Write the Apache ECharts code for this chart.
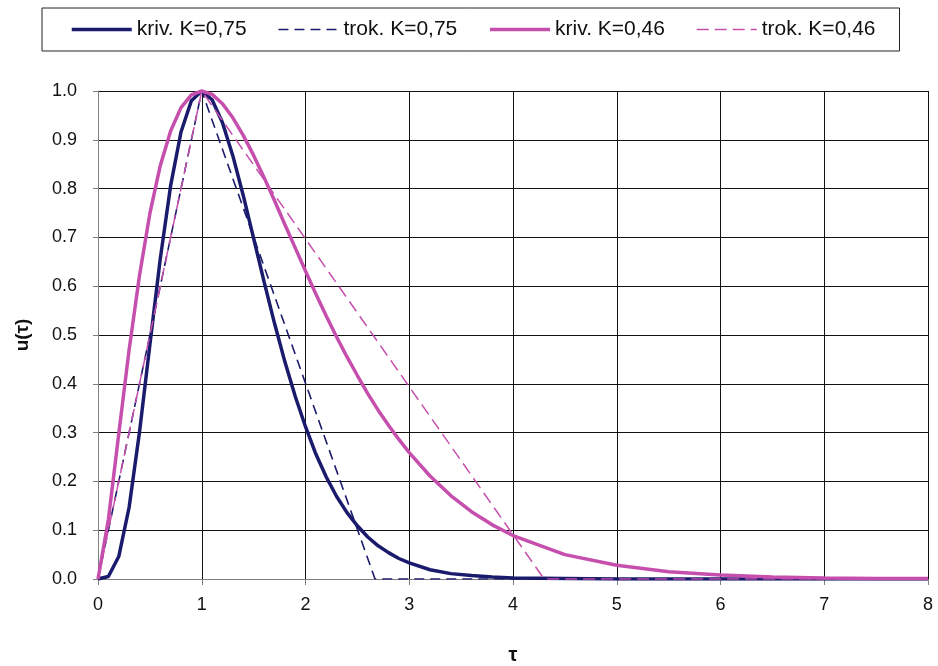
<!DOCTYPE html>
<html>
<head>
<meta charset="utf-8">
<title>u(τ)</title>
<script src="https://cdn.jsdelivr.net/npm/echarts@6/dist/echarts.min.js"></script>
<style>
  html, body { margin: 0; padding: 0; background: #ffffff; }
  #chart { width: 938px; height: 666px; }
</style>
</head>
<body>
<div id="chart"></div>
<script>
// Sample times τ for the smooth curves
const tauCurve = [
  0, 0.1, 0.2, 0.3, 0.4, 0.5, 0.6, 0.7, 0.8, 0.9,
  1.0, 1.1, 1.2, 1.3, 1.4, 1.5, 1.6, 1.7, 1.8, 1.9,
  2.0, 2.1, 2.2, 2.3, 2.4, 2.5, 2.6, 2.7, 2.8, 2.9,
  3.0, 3.2, 3.4, 3.6, 3.8, 4.0, 4.5, 5.0, 5.5, 6.0,
  6.5, 7.0, 7.5, 8.0
];

// Curve u(τ), K = 0,75
const krivK075 = [
  0, 0.005, 0.046, 0.147, 0.301, 0.480, 0.656, 0.806, 0.916, 0.980,
  1.000, 0.982, 0.935, 0.867, 0.786, 0.698, 0.610, 0.525, 0.446, 0.375,
  0.312, 0.256, 0.209, 0.169, 0.136, 0.109, 0.086, 0.068, 0.054, 0.042,
  0.033, 0.019, 0.011, 0.007, 0.004, 0.002, 0.001, 0, 0, 0,
  0, 0, 0, 0
];

// Curve u(τ), K = 0,46
const krivK046 = [
  0, 0.122, 0.297, 0.470, 0.622, 0.749, 0.847, 0.918, 0.966, 0.992,
  1.000, 0.993, 0.974, 0.945, 0.909, 0.868, 0.823, 0.776, 0.727, 0.679,
  0.631, 0.584, 0.539, 0.496, 0.455, 0.417, 0.380, 0.346, 0.315, 0.286,
  0.259, 0.211, 0.171, 0.138, 0.111, 0.089, 0.050, 0.028, 0.015, 0.008,
  0.004, 0.002, 0.001, 0.001
];

// Triangular approximations: start, peak, end of base, end of range
const trokTauK075 = [0, 1, 2.67, 8];
const trokK075 = [0, 1, 0, 0];
const trokTauK046 = [0, 1, 4.3, 8];
const trokK046 = [0, 1, 0, 0];

const xTicks = [0, 1, 2, 3, 4, 5, 6, 7, 8];
const yTicks = [0, 0.1, 0.2, 0.3, 0.4, 0.5, 0.6, 0.7, 0.8, 0.9, 1.0];

const NAVY = '#1b1b6e';
const PINK = '#c64fae';

const pairs = (xs, ys) => xs.map((x, i) => [x, ys[i]]);

const chart = echarts.init(document.getElementById('chart'), null, { renderer: 'canvas' });

const font = '"Liberation Sans", Arial, sans-serif';

chart.setOption({
  animation: false,
  backgroundColor: '#ffffff',
  legend: {
    left: 42,
    top: 8,
    padding: [11, 24, 11, 28],
    borderColor: '#222',
    borderWidth: 1,
    itemWidth: 60,
    itemHeight: 14,
    itemGap: 31,
    itemStyle: { opacity: 0, borderWidth: 0 },
    lineStyle: { width: 'inherit' },
    textStyle: { fontFamily: font, fontSize: 21, color: '#111' },
    data: ['kriv. K=0,75', 'trok. K=0,75', 'kriv. K=0,46', 'trok. K=0,46']
  },
  grid: { left: 98, right: 10, top: 91, bottom: 87, containLabel: false, outerBoundsMode: 'none' },
  xAxis: {
    type: 'value',
    min: 0,
    max: 8,
    interval: 1,
    name: 'τ',
    nameLocation: 'middle',
    nameGap: 66,
    nameTextStyle: { fontFamily: font, fontSize: 20, fontWeight: 'bold', color: '#111' },
    axisLine: { onZero: false, lineStyle: { color: '#808080', width: 1 } },
    axisTick: { show: true, inside: false, length: 6, lineStyle: { color: '#808080' } },
    axisLabel: {
      margin: 17,
      fontFamily: font, fontSize: 18, color: '#111',
      formatter: v => xTicks.includes(v) ? String(v) : ''
    },
    splitLine: { show: true, lineStyle: { color: '#111', width: 1 } }
  },
  yAxis: {
    type: 'value',
    min: 0,
    max: 1,
    interval: 0.1,
    name: 'u(τ)',
    nameLocation: 'middle',
    nameRotate: 90,
    nameGap: 66,
    nameTextStyle: { fontFamily: font, fontSize: 19, fontWeight: 'bold', color: '#111' },
    axisLine: { show: true, lineStyle: { color: '#808080', width: 1 } },
    axisTick: { show: true, inside: false, length: 5, lineStyle: { color: '#808080' } },
    axisLabel: {
      margin: 21,
      fontFamily: font, fontSize: 18, color: '#111',
      formatter: v => {
        const t = yTicks.find(k => Math.abs(k - v) < 1e-6);
        return t === undefined ? '' : t.toFixed(1);
      }
    },
    splitLine: { show: true, lineStyle: { color: '#111', width: 1 } }
  },
  series: [
    {
      name: 'kriv. K=0,75',
      type: 'line',
      data: pairs(tauCurve, krivK075),
      showSymbol: false,
      symbol: 'none',
      lineStyle: { color: NAVY, width: 3.5 },
      itemStyle: { color: NAVY },
      z: 2
    },
    {
      name: 'trok. K=0,75',
      type: 'line',
      data: pairs(trokTauK075, trokK075),
      showSymbol: false,
      symbol: 'none',
      lineStyle: { color: NAVY, width: 1.6, type: [10, 6] },
      itemStyle: { color: NAVY },
      z: 3
    },
    {
      name: 'kriv. K=0,46',
      type: 'line',
      data: pairs(tauCurve, krivK046),
      showSymbol: false,
      symbol: 'none',
      lineStyle: { color: PINK, width: 3.5 },
      itemStyle: { color: PINK },
      z: 4
    },
    {
      name: 'trok. K=0,46',
      type: 'line',
      data: pairs(trokTauK046, trokK046),
      showSymbol: false,
      symbol: 'none',
      lineStyle: { color: PINK, width: 1.5, type: [12, 6] },
      itemStyle: { color: PINK },
      z: 5
    }
  ]
});
</script>
</body>
</html>
